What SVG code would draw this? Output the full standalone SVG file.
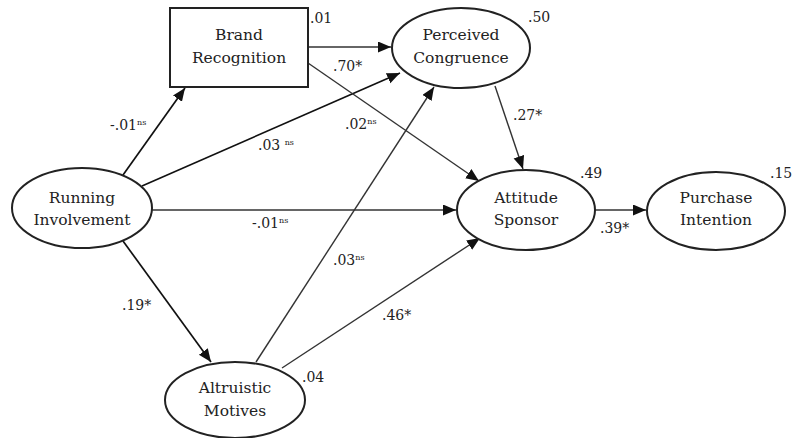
<svg xmlns="http://www.w3.org/2000/svg" width="793" height="438" viewBox="0 0 793 438">
<defs>
<marker id="ah" markerUnits="userSpaceOnUse" markerWidth="14" markerHeight="12" refX="13" refY="5.5" orient="auto">
<path d="M0,0 L13,5.5 L0,11 z" fill="#111"/>
</marker>
<style>
text{font-family:'DejaVu Serif','Liberation Serif',serif;fill:#222}
.node{fill:#fff;stroke:#222;stroke-width:2}
.nt{font-size:15.5px;text-anchor:middle}
.num{font-size:14px}
.sup{font-size:8px}
.e{fill:none;stroke:#333;stroke-width:1.4;marker-end:url(#ah)}
.d{stroke:#111;stroke-width:1.7}
</style>
</defs>
<rect width="793" height="438" fill="#fff"/>
<g id="connectors">
<line class="e d" x1="123" y1="175" x2="185" y2="88"/>
<line class="e d" x1="142" y1="186" x2="400" y2="73"/>
<line class="e" x1="308" y1="47" x2="391" y2="47"/>
<line class="e" x1="308" y1="63" x2="479" y2="181"/>
<line class="e" x1="495" y1="86" x2="523" y2="169"/>
<line class="e" x1="152" y1="210" x2="456" y2="210"/>
<line class="e" x1="595" y1="210" x2="646" y2="210"/>
<line class="e d" x1="123" y1="241" x2="211" y2="362"/>
<line class="e" x1="256" y1="362" x2="434" y2="87"/>
<line class="e" x1="282" y1="368" x2="480" y2="238"/>
</g>
<g id="brand-recognition">
<rect class="node" x="170" y="8" width="138" height="79"/>
<text class="nt" x="239" y="40">Brand</text>
<text class="nt" x="239" y="63">Recognition</text>
<text class="num" x="310" y="23">.01</text>
</g>
<g id="perceived-congruence">
<ellipse class="node" cx="461" cy="48" rx="69" ry="40"/>
<text class="nt" x="461" y="40">Perceived</text>
<text class="nt" x="461" y="63">Congruence</text>
<text class="num" x="528" y="22">.50</text>
</g>
<g id="running-involvement">
<ellipse class="node" cx="82" cy="208" rx="70" ry="40"/>
<text class="nt" x="82" y="203">Running</text>
<text class="nt" x="82" y="225">Involvement</text>
</g>
<g id="attitude-sponsor">
<ellipse class="node" cx="526" cy="210" rx="69" ry="40"/>
<text class="nt" x="526" y="203">Attitude</text>
<text class="nt" x="526" y="225">Sponsor</text>
<text class="num" x="580" y="178">.49</text>
</g>
<g id="purchase-intention">
<ellipse class="node" cx="716" cy="211" rx="69" ry="39"/>
<text class="nt" x="716" y="203">Purchase</text>
<text class="nt" x="716" y="225">Intention</text>
<text class="num" x="770" y="178">.15</text>
</g>
<g id="altruistic-motives">
<ellipse class="node" cx="235" cy="400" rx="70" ry="38"/>
<text class="nt" x="235" y="393">Altruistic</text>
<text class="nt" x="235" y="416">Motives</text>
<text class="num" x="302" y="382">.04</text>
</g>
<g id="labels">
<text class="num" x="110" y="130">-.01<tspan class="sup" dy="-5">ns</tspan></text>
<text class="num" x="258" y="150">.03 <tspan class="sup" dy="-5">ns</tspan></text>
<text class="num" x="333" y="71">.70*</text>
<text class="num" x="345" y="129">.02<tspan class="sup" dy="-5">ns</tspan></text>
<text class="num" x="513" y="120">.27*</text>
<text class="num" x="252" y="228">-.01<tspan class="sup" dy="-5">ns</tspan></text>
<text class="num" x="600" y="233">.39*</text>
<text class="num" x="122" y="310">.19*</text>
<text class="num" x="333" y="265">.03<tspan class="sup" dy="-5">ns</tspan></text>
<text class="num" x="382" y="320">.46*</text>
</g>
</svg>
